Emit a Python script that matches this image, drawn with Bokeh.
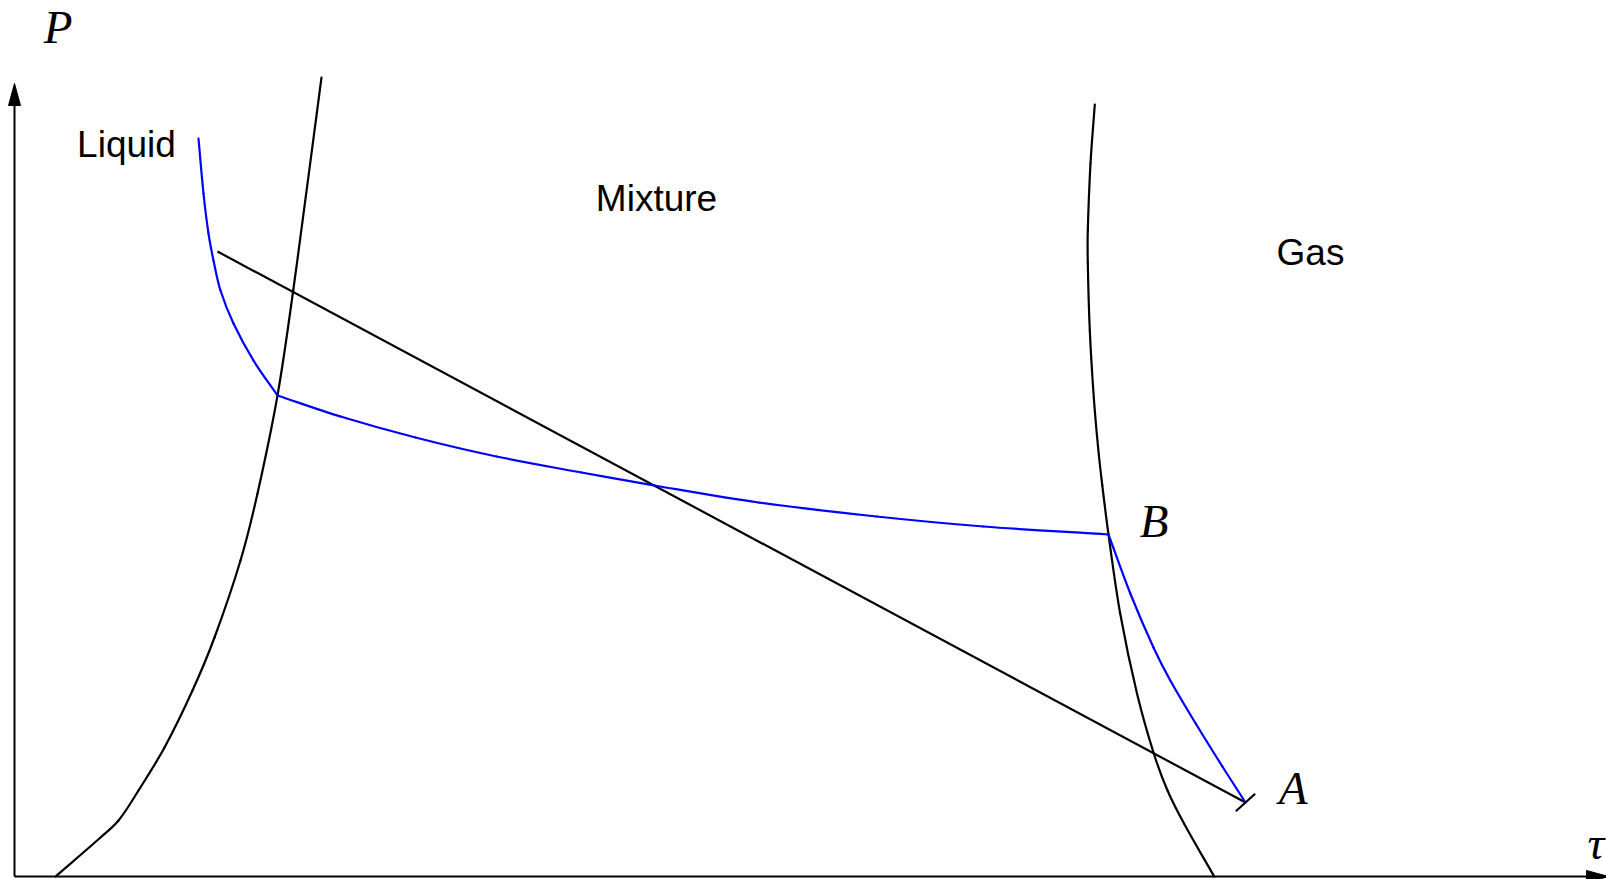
import math
from bokeh.plotting import figure
from bokeh.models import Range1d
from bokeh.core.properties import value
from bokeh.embed import file_html
from bokeh.resources import INLINE

# Phase boundaries in the (tau, P) plane
liquid_tau = [0.41, 0.86, 1.04, 1.24, 1.50, 1.78, 2.00, 2.26, 2.43, 2.63, 2.787, 3.07]
liquid_P = [0.00, 0.39, 0.56, 0.86, 1.29, 1.86, 2.39, 3.16, 3.83, 4.81, 5.86, 7.99]

gas_tau = [10.803, 10.760, 10.733, 10.733, 10.753, 10.793, 10.836, 10.878, 10.940,
           11.057, 11.225, 11.393, 11.530, 11.695, 11.997]
gas_P = [7.72, 7.13, 6.46, 6.13, 5.46, 4.79, 4.29, 3.91, 3.42,
         2.63, 1.83, 1.23, 0.86, 0.53, 0.00]

# Isotherm: liquid branch, mixture stretch, gas branch (corners at index 7 and 16)
iso_tau = [1.84, 1.89, 1.94, 1.99, 2.06, 2.19, 2.39, 2.63,
           3.26, 4.01, 4.82, 5.67, 6.40, 7.44, 8.62, 9.69, 10.94,
           11.158, 11.390, 11.558, 11.812, 12.079, 12.31]
iso_P = [7.38, 6.83, 6.43, 6.16, 5.86, 5.53, 5.16, 4.81,
         4.60, 4.39, 4.20, 4.04, 3.91, 3.74, 3.60, 3.50, 3.42,
         2.83, 2.29, 1.96, 1.53, 1.10, 0.74]
iso_corners = [7, 16]

# Straight path ending at state A
path_tau = [2.03, 12.31]
path_P = [6.25, 0.74]

point_A = (12.31, 0.74)
point_B = (10.94, 3.42)

region_names = ["Liquid", "Mixture", "Gas"]
region_tau = [1.12, 6.42, 12.96]
region_P = [7.32, 6.78, 6.24]

axis_tau_max = 15.94
axis_P_max = 7.93


def smooth(xs, ys):
    """Cubic Bezier pieces through the points; tangents follow neighbouring chords."""
    n = len(xs)
    tangents = []
    for i in range(n):
        a = max(i - 1, 0)
        d = min(i + 1, n - 1)
        tx, ty = xs[d] - xs[a], ys[d] - ys[a]
        norm = math.hypot(tx, ty) or 1.0
        tangents.append((tx / norm, ty / norm))
    out = dict(x0=[], y0=[], x1=[], y1=[], cx0=[], cy0=[], cx1=[], cy1=[])
    for i in range(n - 1):
        seg = math.hypot(xs[i + 1] - xs[i], ys[i + 1] - ys[i]) / 3
        out["x0"].append(xs[i]); out["y0"].append(ys[i])
        out["x1"].append(xs[i + 1]); out["y1"].append(ys[i + 1])
        out["cx0"].append(xs[i] + tangents[i][0] * seg)
        out["cy0"].append(ys[i] + tangents[i][1] * seg)
        out["cx1"].append(xs[i + 1] - tangents[i + 1][0] * seg)
        out["cy1"].append(ys[i + 1] - tangents[i + 1][1] * seg)
    return out


p = figure(width=1606, height=879,
           x_range=Range1d(-0.14, 15.92), y_range=Range1d(-0.03, 8.76),
           output_backend="svg", toolbar_location=None,
           x_axis_type=None, y_axis_type=None, min_border=0)
p.outline_line_color = None
p.background_fill_color = "white"
p.border_fill_color = "white"

# Axes drawn as arrows
head_len, head_half = 0.22, 0.06
p.line([0, 0], [0, axis_P_max - head_len], line_color="black", line_width=2)
p.line([0, axis_tau_max - head_len], [0, 0], line_color="black", line_width=2)
p.patch([0, -head_half, head_half], [axis_P_max, axis_P_max - head_len, axis_P_max - head_len],
        fill_color="black", line_color="black", line_width=1)
p.patch([axis_tau_max, axis_tau_max - head_len, axis_tau_max - head_len], [0, head_half, -head_half],
        fill_color="black", line_color="black", line_width=1)

curve_style = dict(line_width=2.2, line_cap="round")

# Phase boundaries
p.bezier(**smooth(liquid_tau, liquid_P), line_color="black", **curve_style)
p.bezier(**smooth(gas_tau, gas_P), line_color="black", **curve_style)

# Straight path
p.line(path_tau, path_P, line_color="black", line_width=2.2)

# Isotherm, smooth between its corners
cuts = [0] + iso_corners + [len(iso_tau) - 1]
for s, e in zip(cuts[:-1], cuts[1:]):
    p.bezier(**smooth(iso_tau[s:e + 1], iso_P[s:e + 1]), line_color="#0000ff", **curve_style)

# End tick at A
tick_half, tick_angle = 0.13, math.radians(42)
dx, dy = tick_half * math.cos(tick_angle), tick_half * math.sin(tick_angle)
p.line([point_A[0] - dx, point_A[0] + dx], [point_A[1] - dy, point_A[1] + dy],
       line_color="black", line_width=2.2)

# Region labels
p.text(region_tau, region_P, text=region_names, text_font=value("Liberation Sans"),
       text_font_size="37px", text_align="center", text_baseline="alphabetic",
       text_color="black")

# Math labels
math_font = dict(text_font=value("Liberation Serif"), text_font_style="italic",
                 text_font_size="47px", text_baseline="alphabetic", text_color="black")
p.text([0.435], [8.50], text=["P"], text_align="center", **math_font)
p.text([point_A[0] + 0.475], [0.89], text=["A"], text_align="center", **math_font)
p.text([point_B[0] + 0.455], [3.56], text=["B"], text_align="center", **math_font)
p.text([15.73], [0.34], text=["τ"], text_align="left", **math_font)

open("out.html", "w").write(file_html(p, INLINE))
